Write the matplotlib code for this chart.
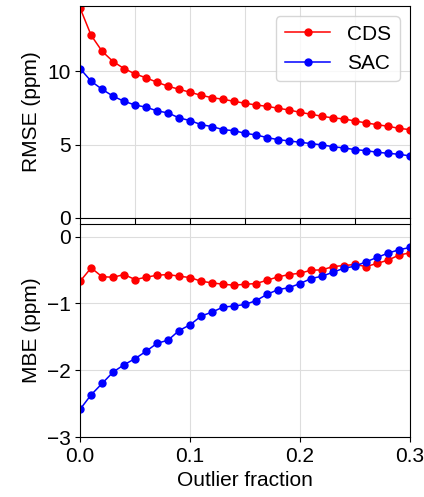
import numpy as np
import matplotlib.pyplot as plt

plt.rcParams['font.family'] = ['Liberation Sans', 'DejaVu Sans']
plt.rcParams['font.size'] = 15

# outlier fraction, 0 to 0.3 in steps of 0.01
frac = np.round(np.arange(0, 0.301, 0.01), 2)

rmse_cds = [14.3, 12.45, 11.36, 10.66, 10.18, 9.82, 9.55, 9.25, 8.98, 8.77,
            8.57, 8.36, 8.2, 8.09, 7.95, 7.82, 7.7, 7.61, 7.48, 7.36,
            7.2, 7.07, 6.93, 6.82, 6.75, 6.61, 6.48, 6.36, 6.25, 6.11, 6.02]
rmse_sac = [10.18, 9.32, 8.77, 8.3, 7.95, 7.7, 7.55, 7.3, 7.16, 6.82,
            6.64, 6.36, 6.23, 6.02, 5.95, 5.77, 5.66, 5.48, 5.34, 5.25,
            5.16, 5.07, 4.98, 4.86, 4.77, 4.66, 4.59, 4.48, 4.41, 4.34, 4.23]

mbe_cds = [-0.667, -0.467, -0.60, -0.607, -0.567, -0.642, -0.607, -0.577, -0.567, -0.592,
           -0.612, -0.667, -0.692, -0.712, -0.727, -0.712, -0.702, -0.652, -0.602, -0.567,
           -0.547, -0.502, -0.497, -0.447, -0.432, -0.416, -0.447, -0.401, -0.351, -0.276, -0.241]
mbe_sac = [-2.584, -2.368, -2.198, -2.027, -1.917, -1.826, -1.716, -1.596, -1.550, -1.405,
           -1.320, -1.189, -1.129, -1.054, -1.039, -1.014, -0.958, -0.863, -0.793, -0.763,
           -0.702, -0.627, -0.592, -0.532, -0.472, -0.442, -0.376, -0.311, -0.246, -0.196, -0.161]

fig = plt.figure(figsize=(4.24, 4.97), dpi=100)
ax1 = fig.add_axes([0.189, 0.5614, 0.778, 0.4266])
ax2 = fig.add_axes([0.189, 0.1207, 0.778, 0.4286])

ax1.plot(frac, rmse_cds, 'o-', color='red', ms=5, lw=1.1, label='CDS')
ax1.plot(frac, rmse_sac, 'o-', color='blue', ms=5, lw=1.1, label='SAC')
ax1.set_xlim(0, 0.3)
ax1.set_ylim(0, 14.45)
ax1.set_xticks(np.arange(0, 0.301, 0.05))
ax1.set_xticklabels([])
ax1.tick_params(axis='x', length=4.3)
ax1.set_yticks([0, 5, 10])
ax1.set_ylabel('RMSE (ppm)')
ax1.grid(True, color='#dddddd')
ax1.legend(loc='upper right', fontsize=15, handlelength=2.2)

ax2.plot(frac, mbe_cds, 'o-', color='red', ms=5, lw=1.1)
ax2.plot(frac, mbe_sac, 'o-', color='blue', ms=5, lw=1.1)
ax2.set_xlim(0, 0.3)
ax2.set_ylim(-3, 0.19)
ax2.set_xticks([0, 0.1, 0.2, 0.3])
ax2.set_yticks([-3, -2, -1, 0])
ax2.set_xlabel('Outlier fraction')
ax2.set_ylabel('MBE (ppm)')
ax2.grid(True, color='#dddddd')

fig.align_ylabels([ax1, ax2])
plt.savefig('out.png')
